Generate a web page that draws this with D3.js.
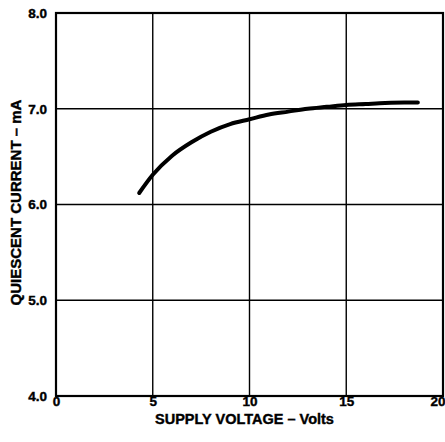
<!DOCTYPE html>
<html>
<head>
<meta charset="utf-8">
<script src="https://cdn.jsdelivr.net/npm/d3@7"></script>
<style>
  body { margin: 0; background: #fff; }
  text { font-family: "Liberation Sans", Arial, sans-serif; font-weight: bold; fill: #000; }
</style>
</head>
<body>
<div class="chart"></div>
<script>
// curve
var voltage = [4.3, 5, 6, 7, 8, 9, 10, 11, 12, 13, 14, 15, 16, 17, 18, 18.7];
var current = [6.12, 6.31, 6.51, 6.65, 6.76, 6.84, 6.89, 6.94, 6.97, 7.0, 7.02, 7.04, 7.05, 7.06, 7.065, 7.065];
var xTicks = [0, 5, 10, 15, 20];
var yTicks = [4, 5, 6, 7, 8];

var svgWidth = 445;
var svgHeight = 442;
var margin = {top: 13, right: 2, bottom: 46, left: 56};
var width = svgWidth - margin.left - margin.right;
var height = svgHeight - margin.top - margin.bottom;

var svg = d3.select(".chart")
  .append("svg")
  .attr("width", svgWidth)
  .attr("height", svgHeight);

var chartGroup = svg.append("g")
  .attr("transform", `translate(${margin.left},${margin.top})`);

var xScale = d3.scaleLinear().domain([0, 20]).range([0, width]);
var yScale = d3.scaleLinear().domain([4, 8]).range([height, 0]);

// grid
chartGroup.selectAll(".vgrid")
  .data(xTicks.slice(1, -1))
  .enter()
  .append("line")
  .attr("x1", d => xScale(d)).attr("x2", d => xScale(d))
  .attr("y1", 0).attr("y2", height)
  .attr("stroke", "#000").attr("stroke-width", 1.4);

chartGroup.selectAll(".hgrid")
  .data(yTicks.slice(1, -1))
  .enter()
  .append("line")
  .attr("x1", 0).attr("x2", width)
  .attr("y1", d => yScale(d)).attr("y2", d => yScale(d))
  .attr("stroke", "#000").attr("stroke-width", 1.4);

// frame
chartGroup.append("rect")
  .attr("x", 0).attr("y", 0)
  .attr("width", width).attr("height", height)
  .attr("fill", "none")
  .attr("stroke", "#000")
  .attr("stroke-width", 2.2);

// axes (labels only)
var bottomAxis = d3.axisBottom(xScale).tickValues(xTicks).tickSize(0).tickPadding(0).tickFormat(d3.format("d"));
var leftAxis = d3.axisLeft(yScale).tickValues(yTicks).tickSize(0).tickPadding(9).tickFormat(d3.format(".1f"));

var xAxisG = chartGroup.append("g")
  .attr("transform", `translate(0, ${height})`)
  .call(bottomAxis);
var yAxisG = chartGroup.append("g").call(leftAxis);

[xAxisG, yAxisG].forEach(function(g) {
  g.select(".domain").remove();
  g.selectAll("text")
    .style("font-family", '"Liberation Sans", Arial, sans-serif')
    .style("font-weight", "bold")
    .style("font-size", "13.5px")
    .attr("fill", "#000")
    .attr("stroke", "#000")
    .attr("stroke-width", 0.4);
});

// last x label sits at the right edge, keep it inside the window
xAxisG.selectAll(".tick text")
  .filter(d => d === 20)
  .attr("text-anchor", "end")
  .attr("x", 2);

// curve
var line = d3.line()
  .x((d, i) => xScale(voltage[i]))
  .y(d => yScale(d))
  .curve(d3.curveMonotoneX);

chartGroup.append("path")
  .datum(current)
  .attr("d", line)
  .attr("fill", "none")
  .attr("stroke", "#000")
  .attr("stroke-width", 4)
  .attr("stroke-linecap", "round");

// axis titles
chartGroup.append("text")
  .attr("x", width / 2 - 5)
  .attr("y", height + 28)
  .attr("text-anchor", "middle")
  .attr("stroke", "#000")
  .attr("stroke-width", 0.4)
  .style("font-size", "14.5px")
  .text("SUPPLY VOLTAGE – Volts");

chartGroup.append("text")
  .attr("transform", "rotate(-90)")
  .attr("x", -(height / 2) + 2)
  .attr("y", -35)
  .attr("text-anchor", "middle")
  .attr("stroke", "#000")
  .attr("stroke-width", 0.4)
  .style("font-size", "15px")
  .text("QUIESCENT CURRENT – mA");
</script>
</body>
</html>
